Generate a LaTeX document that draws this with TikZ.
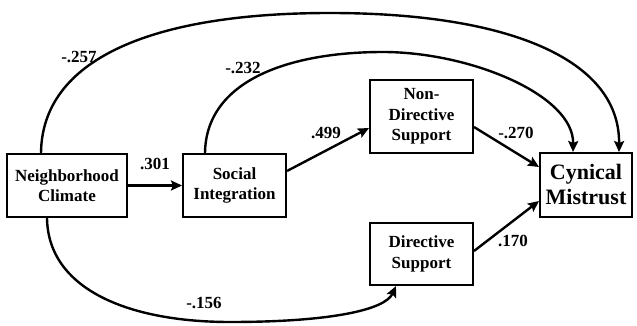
\documentclass[tikz,border=0pt]{standalone}
\usepackage{fontspec}
\setmainfont{Liberation Serif}
\usetikzlibrary{arrows.meta}
\tikzset{
  box/.style={draw=black, line width=2pt, inner sep=0pt, align=center,
    font=\bfseries\fontsize{17}{20.5}\selectfont, fill=white},
  bigbox/.style={box, font=\bfseries\fontsize{22}{25}\selectfont},
  lab/.style={inner sep=0pt, font=\bfseries\fontsize{17}{20}\selectfont},
  conn/.style={line width=2.4pt, -{Stealth[length=11pt,width=10pt,inset=2pt]}},
}
\begin{document}
\begin{tikzpicture}[x=1pt,y=-1pt]
\useasboundingbox (0,0) rectangle (637,326);
% boxes
\node[box, minimum width=120pt, minimum height=63pt] (nc) at (67,185.5) {Neighborhood\\Climate};
\node[box, minimum width=103pt, minimum height=63pt] (si) at (234.5,185.5) {Social\\Integration};
\node[box, minimum width=103pt, minimum height=73pt] (nds) at (421.5,116.5) {Non-\\Directive\\Support};
\node[box, minimum width=103pt, minimum height=62pt] (ds) at (421.5,254) {Directive\\Support};
\node[bigbox, minimum width=92pt, minimum height=64pt] (cm) at (586,185) {Cynical\\Mistrust};
% straight paths
\draw[conn] (nc.east) -- (si.west);
\draw[conn] ([yshift=14.5pt]si.east) -- ([yshift=-11.5pt]nds.west);
\draw[conn] ([yshift=-10.5pt]nds.east) -- ([yshift=18pt]cm.west);
\draw[conn] ([yshift=3pt]ds.east) -- ([yshift=-16pt]cm.west);
% curved paths
\draw[conn] ([xshift=35pt]nc.north west) .. controls (42,60) and (150,13) .. (330,13)
  .. controls (510,13) and (620,60) .. ([xshift=80pt]cm.north west);
\draw[conn] ([xshift=23pt]si.north west) .. controls (206,80) and (290,52) .. (383,52)
  .. controls (470,52) and (574,95) .. ([xshift=34pt]cm.north west);
\draw[conn] ([xshift=41pt]nc.south west) .. controls (48,290) and (130,322) .. (230,322)
  .. controls (330,322) and (385,310) .. ([xshift=27pt]ds.south west);
% labels
\node[lab] (l257) at (79,57) {-.257};
\node[lab] (l232) at (243,68) {-.232};
\node[lab] (l301) at (155,164) {.301};
\node[lab] (l499) at (326,133) {.499};
\node[lab] (l270) at (516,133) {-.270};
\node[lab] (l170) at (513,241) {.170};
\node[lab] (l156) at (204,303) {-.156};
\end{tikzpicture}
\end{document}
